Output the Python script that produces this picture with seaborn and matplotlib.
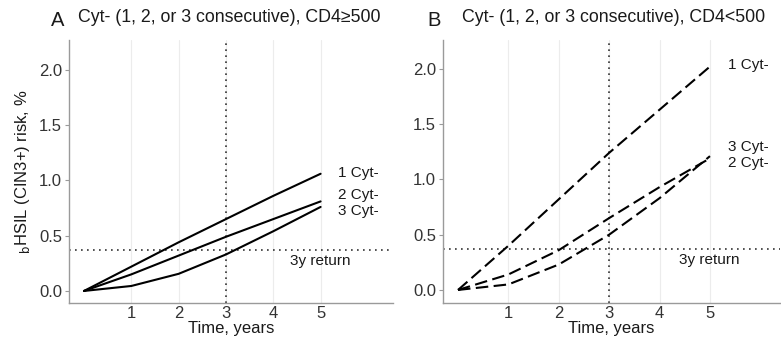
import numpy as np
import pandas as pd
import matplotlib
matplotlib.use("Agg")
import matplotlib.pyplot as plt
import seaborn as sns

sns.set_theme(style="white")
plt.rcParams['font.family'] = ['Liberation Sans', 'DejaVu Sans']

years = [0, 1, 2, 3, 4, 5]
series_names = ["1 Cyt-", "2 Cyt-", "3 Cyt-"]

# Cumulative risk (%) for CD4>=500
risk_hi_1 = [0.0, 0.22, 0.44, 0.65, 0.86, 1.06]
risk_hi_2 = [0.0, 0.15, 0.32, 0.49, 0.65, 0.81]
risk_hi_3 = [0.0, 0.045, 0.155, 0.33, 0.54, 0.76]

# Cumulative risk (%) for CD4<500
risk_lo_1 = [0.0, 0.40, 0.82, 1.24, 1.63, 2.02]
risk_lo_2 = [0.0, 0.14, 0.36, 0.65, 0.93, 1.19]
risk_lo_3 = [0.0, 0.05, 0.23, 0.50, 0.83, 1.21]

return_threshold = 0.37
return_year = 3
x_ticks = [1, 2, 3, 4, 5]
y_ticks = [0.0, 0.5, 1.0, 1.5, 2.0]

title_a = "Cyt- (1, 2, or 3 consecutive), CD4≥500"
title_b = "Cyt- (1, 2, or 3 consecutive), CD4<500"


def frame(series):
    rows = []
    for name, vals in zip(series_names, series):
        for t, v in zip(years, vals):
            rows.append({"year": t, "risk": v, "group": name})
    return pd.DataFrame(rows)


df_hi = frame([risk_hi_1, risk_hi_2, risk_hi_3])
df_lo = frame([risk_lo_1, risk_lo_2, risk_lo_3])

W, H = 781, 342
fig = plt.figure(figsize=(W / 100, H / 100), dpi=100)


def px_axes(left, right, top, bottom):
    return fig.add_axes([left / W, (H - bottom) / H, (right - left) / W, (bottom - top) / H])


ax_a = px_axes(69, 393, 40, 303)
ax_b = px_axes(443, 780, 40, 303)

txt = "#1a1a1a"
axis_col = "#9a9a9a"


def style(ax, xlim, ylim):
    ax.set_xlim(*xlim)
    ax.set_ylim(*ylim)
    ax.set_xticks(x_ticks)
    ax.set_yticks(y_ticks)
    ax.set_yticklabels([f"{v:.1f}" for v in y_ticks])
    for s in ["top", "right"]:
        ax.spines[s].set_visible(False)
    for s in ["left", "bottom"]:
        ax.spines[s].set_color(axis_col)
        ax.spines[s].set_linewidth(1.0)
    ax.grid(axis="x", color="#ececec", linewidth=0.8)
    ax.set_axisbelow(True)
    ax.tick_params(axis="y", length=3, width=0.8, color=axis_col, labelsize=12,
                   labelcolor="#333333", pad=2, left=True)
    ax.tick_params(axis="x", length=0, labelsize=12, labelcolor="#333333", pad=2)
    ax.axhline(return_threshold, color="#333333", linestyle=(0, (1, 2.6)), linewidth=1.2, zorder=1)
    ax.axvline(return_year, color="#333333", linestyle=(0, (1, 2.6)), linewidth=1.2, zorder=1)
    ax.set_xlabel("Time, years", fontsize=12, color=txt, labelpad=0.5)
    ax.set_ylabel("")
    legend = ax.get_legend()
    if legend is not None:
        legend.remove()


sns.lineplot(data=df_hi, x="year", y="risk", units="group", estimator=None,
             color="black", linewidth=1.5, ax=ax_a)
sns.lineplot(data=df_lo, x="year", y="risk", units="group", estimator=None,
             color="black", linewidth=1.5, ax=ax_b)
for ln in ax_b.get_lines():
    ln.set_dashes((6, 2.6))

style(ax_a, (-0.317, 6.53), (-0.109, 2.27))
style(ax_b, (-0.298, 6.39), (-0.118, 2.26))

# Series labels at the right end of each curve
lab_kw = dict(fontsize=11, color=txt, va="center", ha="left")
ax_a.text(5.37, 1.07, "1 Cyt-", **lab_kw)
ax_a.text(5.37, 0.87, "2 Cyt-", **lab_kw)
ax_a.text(5.37, 0.72, "3 Cyt-", **lab_kw)
ax_a.text(4.35, 0.27, "3y return", **lab_kw)

ax_b.text(5.36, 2.03, "1 Cyt-", **lab_kw)
ax_b.text(5.36, 1.29, "3 Cyt-", **lab_kw)
ax_b.text(5.36, 1.15, "2 Cyt-", **lab_kw)
ax_b.text(4.38, 0.27, "3y return", **lab_kw)

ax_a.set_ylabel(r"$_{\mathrm{b}}$HSIL (CIN3+) risk, %", fontsize=12, color=txt, labelpad=5)

# Panel titles
fig.text(51 / W, 1 - 20 / H, "A", fontsize=14.5, color=txt, va="center", ha="left")
fig.text(78 / W, 1 - 18 / H, title_a, fontsize=12.8, color=txt, va="center", ha="left")
fig.text(427 / W, 1 - 20 / H, "B", fontsize=14.5, color=txt, va="center", ha="left")
fig.text(462 / W, 1 - 18 / H, title_b, fontsize=12.8, color=txt, va="center", ha="left")

fig.savefig("out.png", dpi=100)
